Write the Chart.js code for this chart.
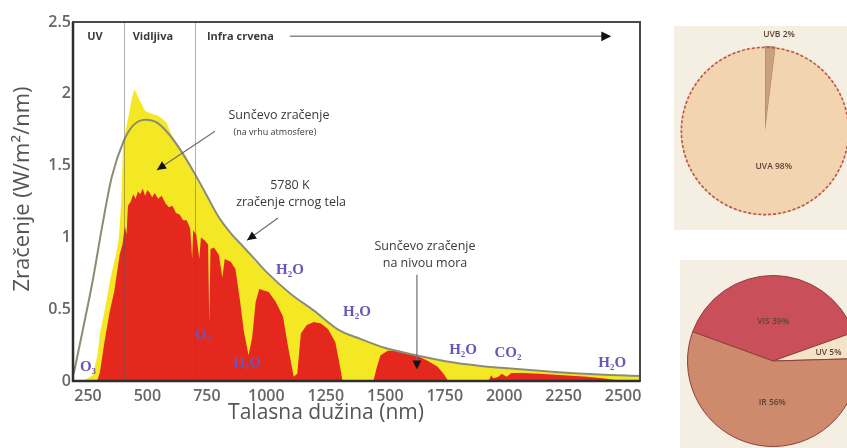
<!DOCTYPE html>
<html>
<head>
<meta charset="utf-8">
<script src="https://cdn.jsdelivr.net/npm/chart.js@4.4.0/dist/chart.umd.min.js"></script>
<style>
  html, body { margin: 0; padding: 0; background: #fff; overflow: hidden; width: 847px; height: 448px; }
  canvas { position: absolute; }
  #spectrum { left: 0; top: 0; }
  #pieTop { left: 674px; top: 26px; }
  #pieBottom { left: 680px; top: 260px; }
</style>
</head>
<body>
<canvas id="spectrum" width="650" height="448"></canvas>
<canvas id="pieTop" width="182" height="204"></canvas>
<canvas id="pieBottom" width="180" height="188"></canvas>
<script>
// sunlight at the top of the atmosphere (yellow)
const topWl  = [187, 240, 270, 290, 300, 315, 330, 345, 355, 370, 380, 390, 397, 405, 415, 425, 435, 445, 455, 465, 475, 490, 505, 520, 540, 560, 580, 600, 620, 640, 660, 680, 700,
                750, 800, 850, 900, 950, 1000, 1100, 1200, 1300, 1400, 1500, 1600, 1700, 1800, 1900, 2000, 2200, 2400, 2571];
const topVal = [0, 0.01, 0.04, 0.18, 0.33, 0.45, 0.58, 0.72, 0.79, 0.90, 1.00, 1.25, 1.62, 1.72, 1.80, 1.88, 1.97, 2.03, 2.00, 1.96, 1.93, 1.88, 1.87, 1.86, 1.85, 1.83, 1.80, 1.72, 1.66, 1.60, 1.55, 1.49, 1.42,
                1.28, 1.13, 1.02, 0.93, 0.84, 0.75, 0.60, 0.48, 0.355, 0.285, 0.225, 0.185, 0.15, 0.12, 0.10, 0.085, 0.06, 0.042, 0.032];

// sunlight at sea level (red)
const seaWl  = [288, 300, 320, 342, 360, 383, 395, 405, 412, 418, 430, 440, 450, 460, 470, 480, 490, 500, 510, 520, 530, 545, 560, 575, 590, 605, 620, 635, 650, 665, 680, 688, 692, 705, 718, 725, 740, 755, 760, 765, 780, 800, 815, 825, 850, 870, 890, 905, 925, 940, 955, 970, 990, 1010, 1040, 1070, 1090, 1115, 1130,
                1145, 1170, 1200, 1230, 1260, 1290, 1310, 1320, 1450, 1465, 1480, 1510, 1560, 1600, 1640, 1680, 1720, 1745, 1765, 1935, 1945, 1955, 1975, 1990, 2010, 2030, 2080, 2150, 2250, 2350, 2430, 2500, 2571];
const seaVal = [0, 0.06, 0.28, 0.49, 0.62, 0.88, 0.95, 1.08, 1.02, 1.22, 1.25, 1.30, 1.27, 1.32, 1.30, 1.34, 1.29, 1.33, 1.31, 1.28, 1.31, 1.27, 1.29, 1.24, 1.21, 1.22, 1.17, 1.16, 1.12, 1.12, 1.06, 0.85, 1.05, 1.02, 0.85, 1.00, 0.98, 0.95, 0.40, 0.92, 0.93, 0.88, 0.72, 0.85, 0.83, 0.78, 0.55, 0.35, 0.18, 0.30, 0.55, 0.64, 0.63, 0.62, 0.55, 0.45, 0.25, 0.03, 0.05,
                0.33, 0.39, 0.41, 0.40, 0.36, 0.27, 0.10, 0, 0, 0.10, 0.18, 0.21, 0.21, 0.19, 0.17, 0.14, 0.10, 0.05, 0, 0, 0.04, 0.02, 0.03, 0.05, 0.03, 0.055, 0.055, 0.05, 0.04, 0.03, 0.015, 0, 0];

// 5780 K black body curve
const bbWl  = [190, 230, 270, 310, 350, 400, 440, 490, 540, 590, 650, 700, 750, 800, 850, 900, 950, 1000, 1100, 1200, 1300, 1400, 1500, 1600, 1700, 1800, 1900, 2000, 2200, 2400, 2571];
const bbVal = [0.05, 0.37, 0.70, 1.08, 1.42, 1.67, 1.78, 1.82, 1.80, 1.72, 1.58, 1.44, 1.29, 1.14, 1.03, 0.94, 0.85, 0.76, 0.61, 0.49, 0.36, 0.29, 0.23, 0.19, 0.155, 0.125, 0.105, 0.09, 0.065, 0.045, 0.035];

const bandEdges = [400, 700];

const pieTopLabels = ['UVB 2%', 'UVA 98%'];
const pieTopValues = [2, 98];
const pieBottomLabels = ['VIS 39%', 'UV 5%', 'IR 56%'];
const pieBottomValues = [39, 5, 56];

// text placed in data coordinates (nm, W/m²/nm)
const notes = [
  { text: 'Sunčevo zračenje', x: 1053, y: 1.85, small: false },
  { text: '(na vrhu atmosfere)', x: 1036, y: 1.73, small: true },
  { text: '5780 K', x: 1099, y: 1.365, small: false },
  { text: 'zračenje crnog tela', x: 1104, y: 1.24, small: false },
  { text: 'Sunčevo zračenje', x: 1667, y: 0.935, small: false },
  { text: 'na nivou mora', x: 1667, y: 0.82, small: false }
];
const arrows = [
  [784, 1.74, 540, 1.47],
  [1049, 1.135, 919, 0.98],
  [1633, 0.74, 1633, 0.08]
];
const molecules = [
  ['O₃', 250, 0.10], ['O₂', 734, 0.32], ['H₂O', 919, 0.125], ['H₂O', 1099, 0.77],
  ['H₂O', 1381, 0.48], ['H₂O', 1827, 0.216], ['CO₂', 2016, 0.195], ['H₂O', 2454, 0.125]
];
const bands = [['UV', 279, 'center'], ['Vidljiva', 523, 'center'], ['Infra crvena', 750, 'left']];

const pts = (xs, ys) => xs.map((v, i) => ({ x: v, y: ys[i] }));

function arrowHead(ctx, x1, y1, x2, y2, size) {
  const a = Math.atan2(y2 - y1, x2 - x1);
  ctx.beginPath();
  ctx.moveTo(x2, y2);
  ctx.lineTo(x2 - size * Math.cos(a - 0.45), y2 - size * Math.sin(a - 0.45));
  ctx.lineTo(x2 - size * Math.cos(a + 0.45), y2 - size * Math.sin(a + 0.45));
  ctx.closePath();
  ctx.fill();
}

const decor = {
  id: 'decor',
  afterDatasetsDraw(chart) {
    const { ctx, chartArea: a, scales: { x, y } } = chart;
    ctx.save();
    ctx.strokeStyle = 'rgba(90,80,80,0.45)';
    ctx.lineWidth = 1;
    bandEdges.forEach(w => {
      const px = Math.round(x.getPixelForValue(w)) + 0.5;
      ctx.beginPath(); ctx.moveTo(px, a.top); ctx.lineTo(px, a.bottom); ctx.stroke();
    });

    ctx.strokeStyle = '#4a4a4a';
    ctx.lineWidth = 2;
    ctx.strokeRect(a.left, a.top, a.right - a.left, a.bottom - a.top);
    ctx.strokeStyle = '#2e2e2e';
    ctx.lineWidth = 2.5;
    ctx.beginPath(); ctx.moveTo(a.left, a.top); ctx.lineTo(a.left, a.bottom); ctx.lineTo(a.right, a.bottom); ctx.stroke();

    // band names + infrared arrow
    const by = y.getPixelForValue(2.4);
    ctx.fillStyle = '#3c3c3c';
    ctx.font = 'bold 11px "Open Sans", sans-serif';
    ctx.textBaseline = 'middle';
    bands.forEach(([t, w, al]) => { ctx.textAlign = al; ctx.fillText(t, x.getPixelForValue(w), by); });
    ctx.strokeStyle = '#8a8a8a'; ctx.lineWidth = 1.5;
    ctx.beginPath(); ctx.moveTo(x.getPixelForValue(1099), by); ctx.lineTo(x.getPixelForValue(2440), by); ctx.stroke();
    ctx.fillStyle = '#111';
    arrowHead(ctx, 0, by, x.getPixelForValue(2450), by, 11);

    // annotations
    ctx.textAlign = 'center';
    notes.forEach(n => {
      ctx.fillStyle = '#3a3a3a';
      ctx.font = (n.small ? '9px' : '12.5px') + ' "Open Sans", sans-serif';
      ctx.fillText(n.text, x.getPixelForValue(n.x), y.getPixelForValue(n.y));
    });
    arrows.forEach(([w1, v1, w2, v2]) => {
      const x1 = x.getPixelForValue(w1), y1 = y.getPixelForValue(v1);
      const x2 = x.getPixelForValue(w2), y2 = y.getPixelForValue(v2);
      ctx.strokeStyle = '#6e6e6e'; ctx.lineWidth = 1.2;
      ctx.beginPath(); ctx.moveTo(x1, y1); ctx.lineTo(x2, y2); ctx.stroke();
      ctx.fillStyle = '#111';
      arrowHead(ctx, x1, y1, x2, y2, 10);
    });

    ctx.fillStyle = '#6a55b8';
    ctx.font = 'bold 15px "Liberation Serif", serif';
    molecules.forEach(([t, w, v]) => ctx.fillText(t, x.getPixelForValue(w), y.getPixelForValue(v)));

    // axis titles
    ctx.fillStyle = '#555';
    ctx.font = '21px "Open Sans", sans-serif';
    ctx.fillText('Talasna dužina (nm)', 326, 413);
    ctx.font = '22px "Open Sans", sans-serif';
    ctx.translate(23, 189);
    ctx.rotate(-Math.PI / 2);
    ctx.fillText('Zračenje (W/m²/nm)', 0, 0);
    ctx.restore();
  }
};

const tickFont = { family: '"Open Sans", sans-serif', size: 16, weight: '600' };

new Chart(document.getElementById('spectrum'), {
  type: 'line',
  data: {
    datasets: [
      { label: '5780 K', data: pts(bbWl, bbVal), borderColor: '#8d8c70', borderWidth: 2, pointRadius: 0, fill: false, tension: 0.4, cubicInterpolationMode: 'monotone' },
      { label: 'more', data: pts(seaWl, seaVal), borderWidth: 0, borderColor: 'transparent', backgroundColor: '#e5281d', fill: 'origin', pointRadius: 0 },
      { label: 'atmosfera', data: pts(topWl, topVal), borderWidth: 0, borderColor: 'transparent', backgroundColor: '#f4e824', fill: 'origin', pointRadius: 0 }
    ]
  },
  options: {
    responsive: false,
    animation: false,
    events: [],
    layout: { padding: { top: 22, right: 10, left: 0, bottom: 0 } },
    plugins: { legend: { display: false }, tooltip: { enabled: false } },
    scales: {
      x: {
        type: 'linear', min: 187, max: 2571,
        ticks: { stepSize: 250, includeBounds: false, color: '#666', font: tickFont, padding: 6, maxRotation: 0, callback: v => String(v) },
        grid: { display: false, drawTicks: false },
        border: { display: false },
        afterFit: s => { s.height = 67; }
      },
      y: {
        min: 0, max: 2.5,
        ticks: { stepSize: 0.5, color: '#666', font: tickFont, padding: 2, callback: v => String(v) },
        grid: { display: false, drawTicks: false },
        border: { display: false },
        afterFit: s => { s.width = 73; }
      }
    }
  },
  plugins: [decor]
});

// small pies: label spot = [radius factor, dx, dy]
function pieLabels(spots, labels, dashed) {
  return {
    id: 'pieLabels',
    beforeDraw(chart) {
      const { ctx, width, height } = chart;
      ctx.save();
      ctx.fillStyle = '#f5eee3';
      ctx.fillRect(0, 0, width, height);
      ctx.restore();
    },
    afterDraw(chart) {
      const { ctx } = chart;
      const meta = chart.getDatasetMeta(0);
      ctx.save();
      if (dashed) {
        const arc = meta.data[0];
        ctx.strokeStyle = '#b5574b';
        ctx.lineWidth = 1.6;
        ctx.setLineDash([3, 2]);
        ctx.beginPath(); ctx.arc(arc.x, arc.y, arc.outerRadius - 1, 0, Math.PI * 2); ctx.stroke();
        ctx.setLineDash([]);
      }
      ctx.fillStyle = '#5e4434';
      ctx.font = '600 8.5px "Open Sans", sans-serif';
      ctx.textAlign = 'center';
      ctx.textBaseline = 'middle';
      meta.data.forEach((arc, i) => {
        const [rf, dx, dy] = spots[i];
        const mid = (arc.startAngle + arc.endAngle) / 2;
        const r = arc.outerRadius * rf;
        ctx.fillText(labels[i], arc.x + r * Math.cos(mid) + dx, arc.y + r * Math.sin(mid) + dy);
      });
      ctx.restore();
    }
  };
}

new Chart(document.getElementById('pieTop'), {
  type: 'pie',
  data: { labels: pieTopLabels, datasets: [{ data: pieTopValues, backgroundColor: ['#c9a27d', '#f2d4b0'], borderColor: '#9a7458', borderWidth: [0.8, 0] }] },
  options: {
    responsive: false, animation: false, events: [], rotation: 0,
    layout: { padding: { left: 6, top: 20, right: 6, bottom: 14 } },
    plugins: { legend: { display: false }, tooltip: { enabled: false } }
  },
  plugins: [pieLabels([[1.14, 8, 0], [0.42, 11, 0]], pieTopLabels, true)]
});

new Chart(document.getElementById('pieBottom'), {
  type: 'pie',
  data: { labels: pieBottomLabels, datasets: [{ data: pieBottomValues, backgroundColor: ['#c94f5b', '#f4e3c6', '#cd8a6c'], borderColor: '#8e3f3c', borderWidth: 1 }] },
  options: {
    responsive: false, animation: false, events: [], rotation: -70,
    layout: { padding: { left: 7, top: 15, right: 1, bottom: 1 } },
    plugins: { legend: { display: false }, tooltip: { enabled: false } }
  },
  plugins: [pieLabels([[0.46, 0, 0], [0.66, 0, 2], [0.49, 6, 0]], pieBottomLabels, false)]
});
</script>
</body>
</html>
